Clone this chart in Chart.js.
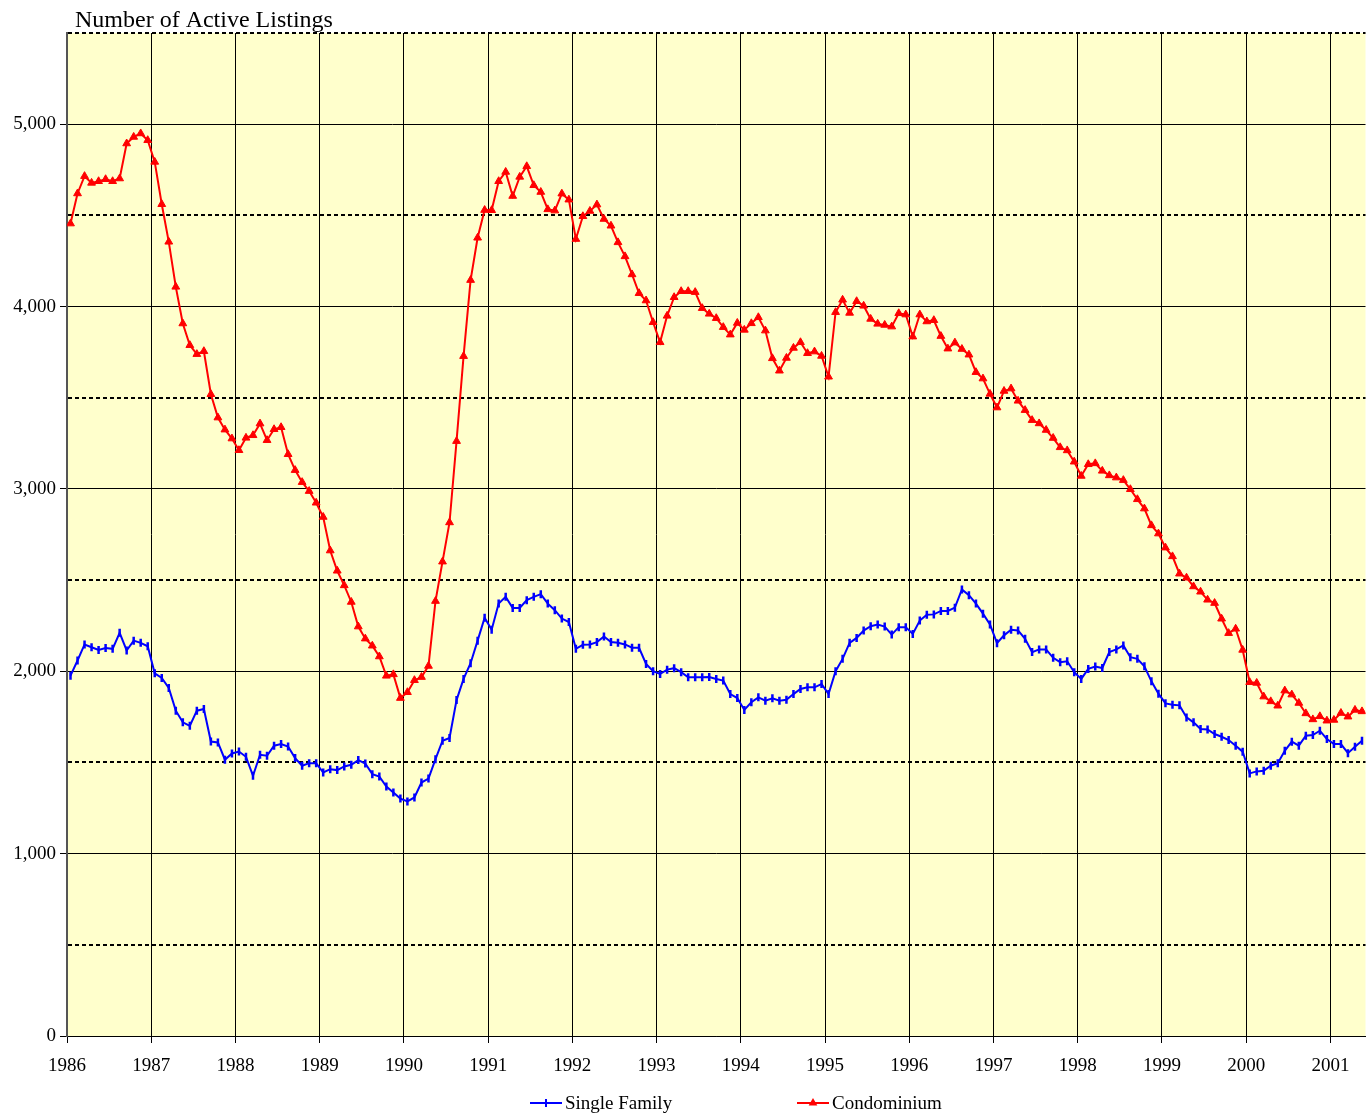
<!DOCTYPE html>
<html>
<head>
<meta charset="utf-8">
<script src="https://cdn.jsdelivr.net/npm/chart.js@4/dist/chart.umd.min.js"></script>
<style>
html,body{margin:0;padding:0;background:#ffffff;}
#wrap{width:1372px;height:1114px;position:relative;}
canvas{display:block;}
</style>
</head>
<body>
<div id="wrap"><canvas id="c" width="1372" height="1114"></canvas></div>
<script>
// ---- data (monthly, Jan 1986 - May 2001) ----
const chartTitle = 'Number of Active Listings';
const seriesNames = ['Single Family', 'Condominium'];
const yearLabels = ['1986','1987','1988','1989','1990','1991','1992','1993','1994','1995','1996','1997','1998','1999','2000','2001'];
const monthsPerYear = 12;
const monthCount = 185;

const singleFamily = [
1976,2059,2147,2132,2117,2128,2123,2211,2114,2168,2156,2137,
1989,1963,1908,1784,1720,1701,1784,1793,1615,1610,1515,1549,
1560,1531,1427,1542,1537,1592,1601,1587,1524,1482,1496,1496,
1445,1463,1458,1478,1487,1513,1494,1436,1423,1368,1335,1302,
1286,1308,1390,1412,1518,1619,1634,1842,1958,2044,2168,2294,
2228,2372,2408,2347,2347,2390,2408,2423,2371,2335,2289,2270,
2123,2145,2147,2160,2191,2160,2156,2147,2129,2129,2040,2000,
1985,2009,2017,1995,1967,1967,1967,1969,1958,1949,1875,1853,
1788,1830,1857,1839,1852,1839,1844,1875,1903,1912,1912,1930,
1875,2000,2068,2156,2183,2223,2247,2256,2245,2201,2242,2242,
2205,2278,2310,2312,2331,2331,2349,2449,2417,2371,2316,2257,
2154,2197,2228,2224,2178,2105,2120,2120,2074,2050,2055,1995,
1958,2013,2026,2018,2105,2120,2142,2077,2068,2027,1945,1877,
1824,1817,1813,1747,1720,1683,1681,1656,1641,1623,1592,1559,
1440,1451,1454,1482,1496,1564,1614,1592,1647,1650,1674,1628,
1601,1601,1551,1586,1619
];

const condominium = [
4455,4620,4715,4678,4687,4698,4687,4702,4894,4930,4949,4912,
4793,4561,4355,4108,3907,3788,3739,3755,3519,3391,3325,3276,
3212,3280,3294,3358,3267,3327,3338,3190,3103,3037,2988,2924,
2846,2662,2551,2471,2380,2245,2179,2140,2081,1975,1983,1853,
1885,1951,1968,2029,2385,2601,2816,3262,3728,4145,4377,4529,
4528,4687,4738,4606,4711,4769,4665,4628,4533,4526,4619,4586,
4370,4495,4524,4559,4480,4443,4352,4275,4176,4073,4033,3914,
3804,3949,4051,4084,4084,4079,3991,3960,3936,3887,3846,3910,
3872,3908,3941,3868,3716,3648,3718,3773,3804,3744,3753,3729,
3615,3969,4037,3965,4029,4004,3932,3905,3899,3890,3963,3956,
3835,3956,3918,3925,3838,3769,3802,3767,3736,3640,3605,3521,
3446,3537,3550,3483,3432,3377,3359,3323,3279,3228,3211,3149,
3071,3135,3140,3099,3074,3062,3048,2998,2943,2892,2800,2755,
2678,2630,2535,2513,2465,2436,2392,2374,2288,2209,2233,2117,
1940,1936,1861,1835,1811,1894,1872,1826,1769,1736,1753,1729,
1733,1771,1751,1788,1780
];

const yMin = 0, yMax = 5500, yMajor = 1000, yMinor = 500;

// ---- styling ----
const FONT = "'Liberation Serif', 'Times New Roman', serif";
const BLUE = '#0000FF';
const RED = '#FF0000';
const PLOT_BG = '#FFFFCC';

function toPoints(arr){ return arr.map((v,i)=>({x:i+0.5, y:v})); }

const bgPlugin = {
  id:'plotBg',
  beforeDraw(chart){
    const {ctx, chartArea:a} = chart;
    ctx.save();
    ctx.fillStyle = PLOT_BG;
    ctx.fillRect(a.left, a.top, a.right-a.left, a.bottom-a.top);
    ctx.restore();
  }
};

const minorGridPlugin = {
  id:'minorGrid',
  beforeDatasetsDraw(chart){
    const {ctx, chartArea:a, scales} = chart;
    ctx.save();
    ctx.strokeStyle = '#000';
    ctx.lineWidth = 2;
    ctx.setLineDash([4,3]);
    for(let v = yMinor; v <= yMax; v += yMajor){
      const y = Math.round(scales.y.getPixelForValue(v));
      ctx.beginPath();
      ctx.moveTo(a.left+1, y);
      ctx.lineTo(a.right, y);
      ctx.stroke();
    }
    ctx.restore();
  }
};

function drawTri(ctx,x,y,r){
  ctx.beginPath();
  let rad = 0;
  ctx.moveTo(x + Math.sin(rad)*r, y - Math.cos(rad)*r);
  rad += 2*Math.PI/3;
  ctx.lineTo(x + Math.sin(rad)*r, y - Math.cos(rad)*r);
  rad += 2*Math.PI/3;
  ctx.lineTo(x + Math.sin(rad)*r, y - Math.cos(rad)*r);
  ctx.closePath();
  ctx.fill();
}

const textPlugin = {
  id:'texts',
  afterDraw(chart){
    const {ctx} = chart;
    ctx.save();
    // title
    ctx.fillStyle = '#000';
    ctx.font = '24px ' + FONT;
    ctx.textBaseline = 'alphabetic';
    ctx.textAlign = 'left';
    ctx.fillText(chartTitle, 75, 27);
    // legend
    const ly = 1103;
    ctx.font = '19px ' + FONT;
    ctx.textBaseline = 'middle';
    const items = [
      {name: chart.data.datasets[0].label, color: BLUE, x: 530, mark: 'bar'},
      {name: chart.data.datasets[1].label, color: RED, x: 797, mark: 'tri'}
    ];
    items.forEach(it=>{
      ctx.strokeStyle = it.color;
      ctx.fillStyle = it.color;
      ctx.lineWidth = 2;
      ctx.beginPath();
      ctx.moveTo(it.x, ly); ctx.lineTo(it.x+32, ly); ctx.stroke();
      const cx = it.x + 16;
      if(it.mark === 'bar'){
        ctx.beginPath(); ctx.moveTo(cx, ly-4); ctx.lineTo(cx, ly+4); ctx.stroke();
      } else {
        drawTri(ctx, cx, ly, 5);
      }
      ctx.fillStyle = '#000';
      ctx.fillText(it.name, it.x + 35, ly+1);
    });
    ctx.restore();
  }
};

const chart = new Chart(document.getElementById('c'), {
  type:'line',
  data:{
    datasets:[
      {
        label: seriesNames[0],
        data: toPoints(singleFamily),
        borderColor: BLUE, backgroundColor: BLUE,
        borderWidth: 2,
        pointStyle: 'line', pointRotation: 90,
        pointRadius: 4, pointBorderWidth: 2.5,
        pointBorderColor: BLUE, pointBackgroundColor: BLUE,
        tension: 0, fill: false
      },
      {
        label: seriesNames[1],
        data: toPoints(condominium),
        borderColor: RED, backgroundColor: RED,
        borderWidth: 2,
        pointStyle: 'triangle',
        pointRadius: 4.5, pointBorderWidth: 1,
        pointBorderColor: RED, pointBackgroundColor: RED,
        tension: 0, fill: false
      }
    ]
  },
  options:{
    responsive:false,
    animation:false,
    devicePixelRatio:1,
    layout:{padding:{left:0, right:5, top:33, bottom:38}},
    plugins:{
      legend:{display:false},
      title:{display:false},
      tooltip:{enabled:false}
    },
    scales:{
      x:{
        type:'linear', min:0, max:monthCount,
        afterBuildTicks(s){ s.ticks = yearLabels.map((l,i)=>({value:i*monthsPerYear})); },
        afterFit(s){ s.height = 40; },
        ticks:{
          autoSkip:false, maxRotation:0, minRotation:0,
          callback:(v)=> yearLabels[Math.round(v/monthsPerYear)],
          font:{family:FONT, size:19}, color:'#000', padding:12
        },
        grid:{color:'#000', lineWidth:1, tickLength:7, drawTicks:true},
        border:{color:'#000', width:1}
      },
      y:{
        min:yMin, max:yMax,
        afterFit(s){ s.width = 67; },
        ticks:{
          stepSize:yMinor, autoSkip:false,
          callback:(v)=> (v % yMajor === 0) ? v.toLocaleString('en-US') : '',
          font:{family:FONT, size:19}, color:'#000', padding:4
        },
        grid:{
          color:(ctx)=> (ctx.tick && ctx.tick.value % yMajor === 0) ? '#000' : 'rgba(0,0,0,0)',
          lineWidth:1, tickLength:7
        },
        border:{color:'#555', width:2}
      }
    }
  },
  plugins:[bgPlugin, minorGridPlugin, textPlugin]
});
</script>
</body>
</html>
